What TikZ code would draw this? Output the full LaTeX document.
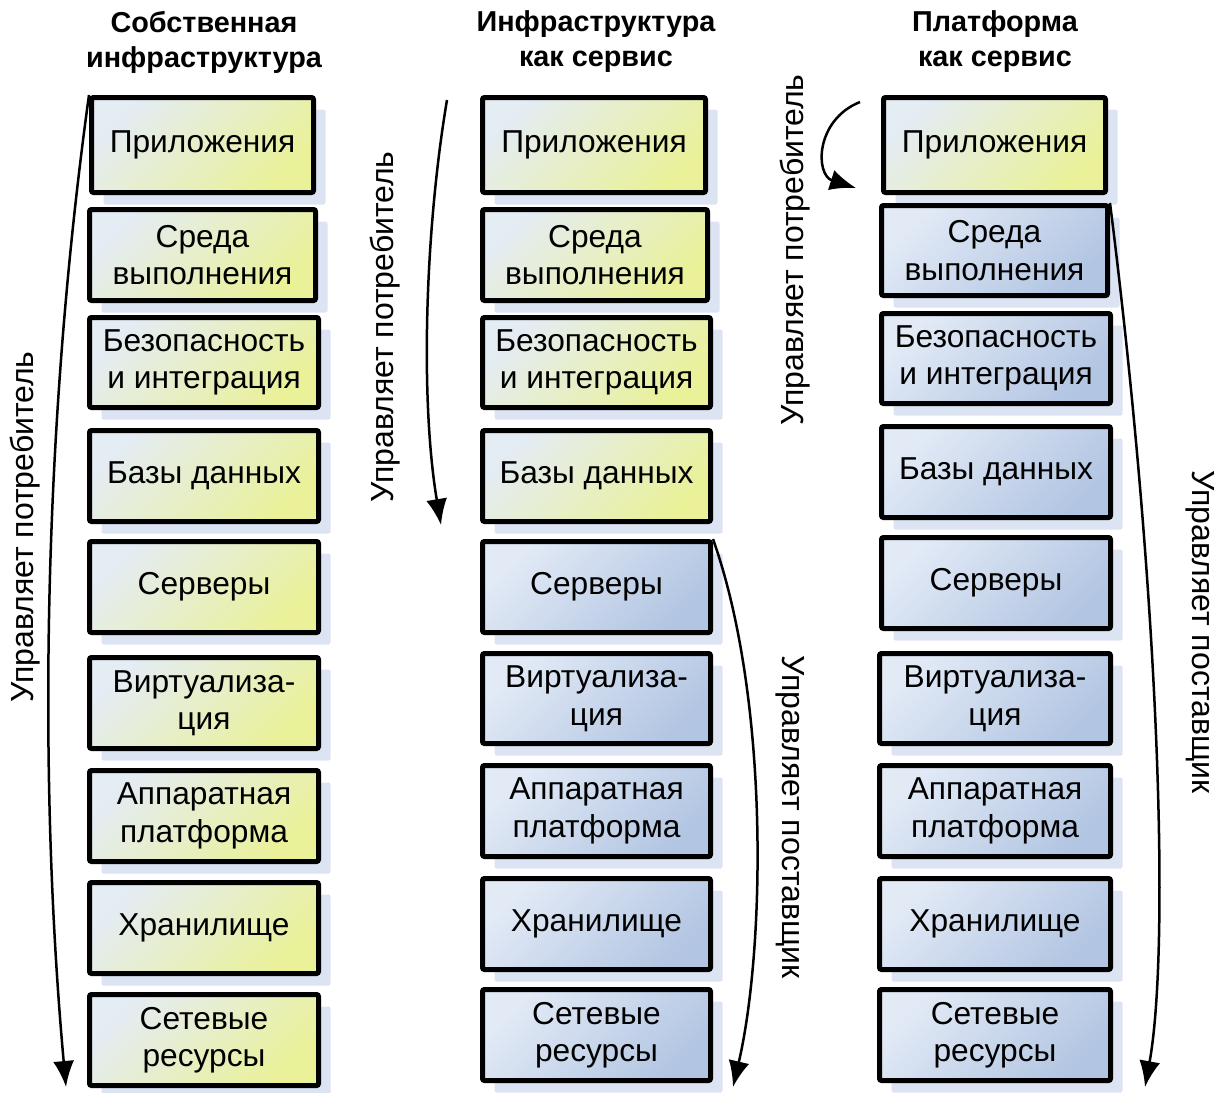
\documentclass[tikz,border=0pt]{standalone}
\usepackage{fontspec}
\setmainfont{Liberation Sans}
\usetikzlibrary{shadows,arrows.meta}
\definecolor{ylA}{RGB}{228,236,244}
\definecolor{ylB}{RGB}{234,241,152}
\definecolor{blA}{RGB}{226,234,246}
\definecolor{blB}{RGB}{178,197,226}
\definecolor{shd}{RGB}{220,228,243}
\tikzset{
  box/.style={draw=black, line width=5pt, rounded corners=2pt, align=center,
    font=\fontsize{31.7}{37.5}\selectfont, inner sep=0pt,
    general shadow={fill=shd, draw=none, shadow xshift=12pt, shadow yshift=-12pt}},
  ybox/.style={box, top color=ylA, bottom color=ylB, shading angle=45},
  bbox/.style={box, top color=blA, bottom color=blB, shading angle=45},
  head/.style={align=center, font=\bfseries\fontsize{28.8}{35}\selectfont},
  side/.style={font=\fontsize{32}{38}\selectfont, inner sep=0pt},
  arr/.style={line width=2.5pt, -{Latex[length=26pt,width=21pt]}}
}
\begin{document}
\begin{tikzpicture}[x=1pt,y=-1pt]
\useasboundingbox (0,0) rectangle (1222,1092);
% headers
\node[head] (h1) at (204,42) {Собственная\\инфраструктура};
\node[head] (h2) at (596,42) {Инфраструктура\\как сервис};
\node[head] (h3) at (995,42) {Платформа\\как сервис};
% column 1
\node[ybox, minimum width=222pt, minimum height=95pt] (a1) at (202.5,145) {Приложения};
\node[ybox, minimum width=226pt, minimum height=91pt] (a2) at (202.5,255) {Среда\\выполнения};
\node[ybox, minimum width=229pt, minimum height=90pt] (a3) at (204,362.5) {Безопасность\\и интеграция};
\node[ybox, minimum width=229pt, minimum height=91pt] (a4) at (204,476) {Базы данных};
\node[ybox, minimum width=229pt, minimum height=91pt] (a5) at (204,587) {Серверы};
\node[ybox, minimum width=229pt, minimum height=91pt] (a6) at (204,703) {Виртуализа-\\ция};
\node[ybox, minimum width=229pt, minimum height=91pt] (a7) at (204,816) {Аппаратная\\платформа};
\node[ybox, minimum width=229pt, minimum height=91pt] (a8) at (204,928) {Хранилище};
\node[ybox, minimum width=229pt, minimum height=91pt] (a9) at (204,1040) {Сетевые\\ресурсы};
% column 2
\node[ybox, minimum width=223pt, minimum height=95pt] (b1) at (594,145) {Приложения};
\node[ybox, minimum width=225pt, minimum height=91pt] (b2) at (595,255) {Среда\\выполнения};
\node[ybox, minimum width=228pt, minimum height=90pt] (b3) at (596.5,362.5) {Безопасность\\и интеграция};
\node[ybox, minimum width=228pt, minimum height=91pt] (b4) at (596.5,476) {Базы данных};
\node[bbox, minimum width=228pt, minimum height=91pt] (b5) at (596.5,587) {Серверы};
\node[bbox, minimum width=228pt, minimum height=90pt] (b6) at (596.5,698.5) {Виртуализа-\\ция};
\node[bbox, minimum width=228pt, minimum height=91pt] (b7) at (596.5,811) {Аппаратная\\платформа};
\node[bbox, minimum width=228pt, minimum height=91pt] (b8) at (596.5,924) {Хранилище};
\node[bbox, minimum width=228pt, minimum height=91pt] (b9) at (596.5,1035) {Сетевые\\ресурсы};
% column 3
\node[ybox, minimum width=222pt, minimum height=95pt] (c1) at (994.5,145) {Приложения};
\node[bbox, minimum width=226pt, minimum height=90pt] (c2) at (994.5,250.5) {Среда\\выполнения};
\node[bbox, minimum width=229pt, minimum height=90pt] (c3) at (996,358.5) {Безопасность\\и интеграция};
\node[bbox, minimum width=229pt, minimum height=91pt] (c4) at (996,472) {Базы данных};
\node[bbox, minimum width=229pt, minimum height=91pt] (c5) at (996,583) {Серверы};
\node[bbox, minimum width=231pt, minimum height=90pt] (c6) at (995,698.5) {Виртуализа-\\ция};
\node[bbox, minimum width=231pt, minimum height=91pt] (c7) at (995,811) {Аппаратная\\платформа};
\node[bbox, minimum width=231pt, minimum height=91pt] (c8) at (995,924) {Хранилище};
\node[bbox, minimum width=231pt, minimum height=91pt] (c9) at (995,1035) {Сетевые\\ресурсы};
% side labels
\node[side, rotate=90] (l1) at (25,527) {Управляет потребитель};
\node[side, rotate=90] (l2) at (385,327) {Управляет потребитель};
\node[side, rotate=90] (l3) at (795,250) {Управляет потребитель};
\node[side, rotate=-90] (l4) at (790,817) {Управляет поставщик};
\node[side, rotate=-90] (l5) at (1200,632) {Управляет поставщик};
% arrow ends
\coordinate (t1) at (66,1087);
\coordinate (s2) at (447,100);
\coordinate (t2) at (441,525);
\coordinate (t3) at (733,1087);
\coordinate (s4) at (860,102);
\coordinate (t4) at (856,188);
\coordinate (t5) at (1145,1087);
% arrows
\draw[arr] (a1.north west) .. controls (40,450) and (40,800) .. (t1);
\draw[arr] (s2) .. controls (425,230) and (420,400) .. (t2);
\draw[arr] (b5.north east) .. controls (770,700) and (765,950) .. (t3);
\draw[arr] (s4) .. controls (815,120) and (815,175) .. (t4);
\draw[arr] (c2.north east) .. controls (1160,600) and (1170,950) .. (t5);
\end{tikzpicture}
\end{document}
